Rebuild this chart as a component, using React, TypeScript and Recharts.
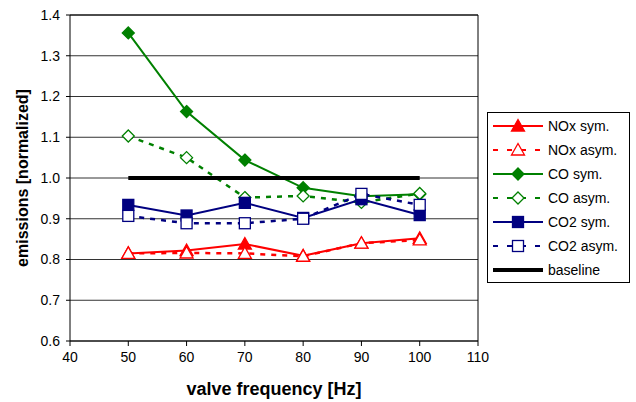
import React from 'react';
import { LineChart, Line, XAxis, YAxis, CartesianGrid, ReferenceLine } from 'recharts';

const freqs = [50, 60, 70, 80, 90, 100];
const noxSym = [0.815, 0.822, 0.838, 0.809, 0.84, 0.852];
const noxAsym = [0.815, 0.816, 0.815, 0.808, 0.84, 0.848];
const coSym = [1.356, 1.163, 1.044, 0.976, 0.955, 0.96];
const coAsym = [1.103, 1.05, 0.952, 0.956, 0.94, 0.962];
const co2Sym = [0.934, 0.908, 0.939, 0.902, 0.948, 0.909];
const co2Asym = [0.907, 0.889, 0.889, 0.9, 0.961, 0.934];
const baselineX = [50, 100];
const baselineY = [1.0, 1.0];
const xTicks = [40, 50, 60, 70, 80, 90, 100, 110];
const yTicks = [0.6, 0.7, 0.8, 0.9, 1.0, 1.1, 1.2, 1.3, 1.4];

const table = freqs.map((f, i) => ({
  f,
  noxSym: noxSym[i],
  noxAsym: noxAsym[i],
  coSym: coSym[i],
  coAsym: coAsym[i],
  co2Sym: co2Sym[i],
  co2Asym: co2Asym[i],
}));
const baseline = baselineX.map((f, i) => ({ f, base: baselineY[i] }));

const RED = '#FF0000';
const GREEN = '#008000';
const NAVY = '#000080';
const FONT = '"Liberation Sans", Arial, sans-serif';
const DASH = '5 6';

type Shape = 'tri' | 'dia' | 'sq';

function markerEl(shape: Shape, cx: number, cy: number, color: string, filled: boolean, key?: any) {
  const fill = filled ? color : '#FFFFFF';
  const sw = 1.3;
  if (shape === 'tri') {
    return <polygon key={key} points={`${cx},${cy - 6.5} ${cx + 6.5},${cy + 5} ${cx - 6.5},${cy + 5}`} fill={fill} stroke={color} strokeWidth={sw} />;
  }
  if (shape === 'dia') {
    return <polygon key={key} points={`${cx},${cy - 6} ${cx + 6},${cy} ${cx},${cy + 6} ${cx - 6},${cy}`} fill={fill} stroke={color} strokeWidth={sw} />;
  }
  return <rect key={key} x={cx - 5.5} y={cy - 5.5} width={11} height={11} fill={fill} stroke={color} strokeWidth={sw} />;
}

const dotFn = (shape: Shape, color: string, filled: boolean) => (props: any) =>
  markerEl(shape, props.cx, props.cy, color, filled, `${shape}-${filled}-${props.index}`);

const legendItems = [
  { label: 'NOx sym.', color: RED, dash: false, shape: 'tri' as Shape, filled: true },
  { label: 'NOx asym.', color: RED, dash: true, shape: 'tri' as Shape, filled: false },
  { label: 'CO sym.', color: GREEN, dash: false, shape: 'dia' as Shape, filled: true },
  { label: 'CO asym.', color: GREEN, dash: true, shape: 'dia' as Shape, filled: false },
  { label: 'CO2 sym.', color: NAVY, dash: false, shape: 'sq' as Shape, filled: true },
  { label: 'CO2 asym.', color: NAVY, dash: true, shape: 'sq' as Shape, filled: false },
  { label: 'baseline', color: '#000000', dash: false, shape: null, filled: true },
];

const LegendBox = () => (
  <div
    style={{
      position: 'absolute',
      left: 487,
      top: 112,
      border: '1px solid #000',
      width: 143,
      height: 171,
      boxSizing: 'border-box',
      paddingTop: 1,
      background: '#fff',
      fontFamily: FONT,
      fontSize: 14,
    }}
  >
    {legendItems.map((it, i) => (
      <div key={i} style={{ display: 'flex', alignItems: 'center', height: 24 }}>
        <svg width={60} height={24} style={{ display: 'block' }}>
          <line
            x1={5}
            x2={55}
            y1={12}
            y2={12}
            stroke={it.color}
            strokeWidth={it.shape ? 2 : 4}
            strokeDasharray={it.dash ? '5 9' : undefined}
          />
          {it.shape ? markerEl(it.shape, 30, 12, it.color, it.filled) : null}
        </svg>
        <span style={{ color: '#000', whiteSpace: 'nowrap' }}>{it.label}</span>
      </div>
    ))}
  </div>
);

const YLabel = (props: any) => {
  const vb = props.viewBox || { x: 0, y: 15, width: 70, height: 326 };
  const cx = 22;
  const cy = vb.y + vb.height / 2;
  return (
    <text
      x={cx}
      y={cy}
      transform={`rotate(-90 ${cx} ${cy})`}
      textAnchor="middle"
      dominantBaseline="central"
      fontFamily={FONT}
      fontWeight="bold"
      fontSize={16}
      fill="#000"
    >
      emissions [normalized]
    </text>
  );
};

const XLabel = (props: any) => {
  const vb = props.viewBox || { x: 70, y: 341, width: 408, height: 61 };
  const cx = vb.x + vb.width / 2;
  return (
    <text x={cx} y={vb.y + 54} textAnchor="middle" fontFamily={FONT} fontWeight="bold" fontSize={18} fill="#000">
      valve frequency [Hz]
    </text>
  );
};

export default function App() {
  return (
    <div style={{ position: 'absolute', left: 0, top: 0, width: 636, height: 402, background: '#fff' }}>
      <LineChart width={636} height={402} margin={{ top: 15, right: 158, bottom: 0, left: 0 }}>
        <CartesianGrid horizontal vertical={false} stroke="#333" strokeWidth={1} />
        <XAxis
          type="number"
          dataKey="f"
          domain={[40, 110]}
          ticks={xTicks}
          interval={0}
          height={61}
          tickSize={5}
          tickMargin={6}
          stroke="#000"
          tick={{ fill: '#000', fontSize: 14, fontFamily: FONT }}
          allowDuplicatedCategory={false}
          label={<XLabel />}
        />
        <YAxis
          type="number"
          domain={[0.6, 1.4]}
          ticks={yTicks}
          interval={0}
          width={70}
          tickSize={4}
          tickMargin={6}
          stroke="#000"
          tick={{ fill: '#000', fontSize: 14, fontFamily: FONT }}
          tickFormatter={(v: number) => v.toFixed(1)}
          label={<YLabel />}
        />
        <ReferenceLine x={110} stroke="#000" strokeWidth={1} />
        <ReferenceLine y={1.4} stroke="#000" strokeWidth={1} />
        <Line data={table} dataKey="noxSym" stroke={RED} strokeWidth={2} isAnimationActive={false} dot={dotFn('tri', RED, true)} />
        <Line data={table} dataKey="noxAsym" stroke={RED} strokeWidth={2.5} strokeDasharray={DASH} isAnimationActive={false} dot={dotFn('tri', RED, false)} />
        <Line data={table} dataKey="coSym" stroke={GREEN} strokeWidth={2} isAnimationActive={false} dot={dotFn('dia', GREEN, true)} />
        <Line data={table} dataKey="coAsym" stroke={GREEN} strokeWidth={2.5} strokeDasharray={DASH} isAnimationActive={false} dot={dotFn('dia', GREEN, false)} />
        <Line data={table} dataKey="co2Sym" stroke={NAVY} strokeWidth={2} isAnimationActive={false} dot={dotFn('sq', NAVY, true)} />
        <Line data={table} dataKey="co2Asym" stroke={NAVY} strokeWidth={2.5} strokeDasharray={DASH} isAnimationActive={false} dot={dotFn('sq', NAVY, false)} />
        <Line data={baseline} dataKey="base" stroke="#000" strokeWidth={4} isAnimationActive={false} dot={false} />
      </LineChart>
      <LegendBox />
    </div>
  );
}
